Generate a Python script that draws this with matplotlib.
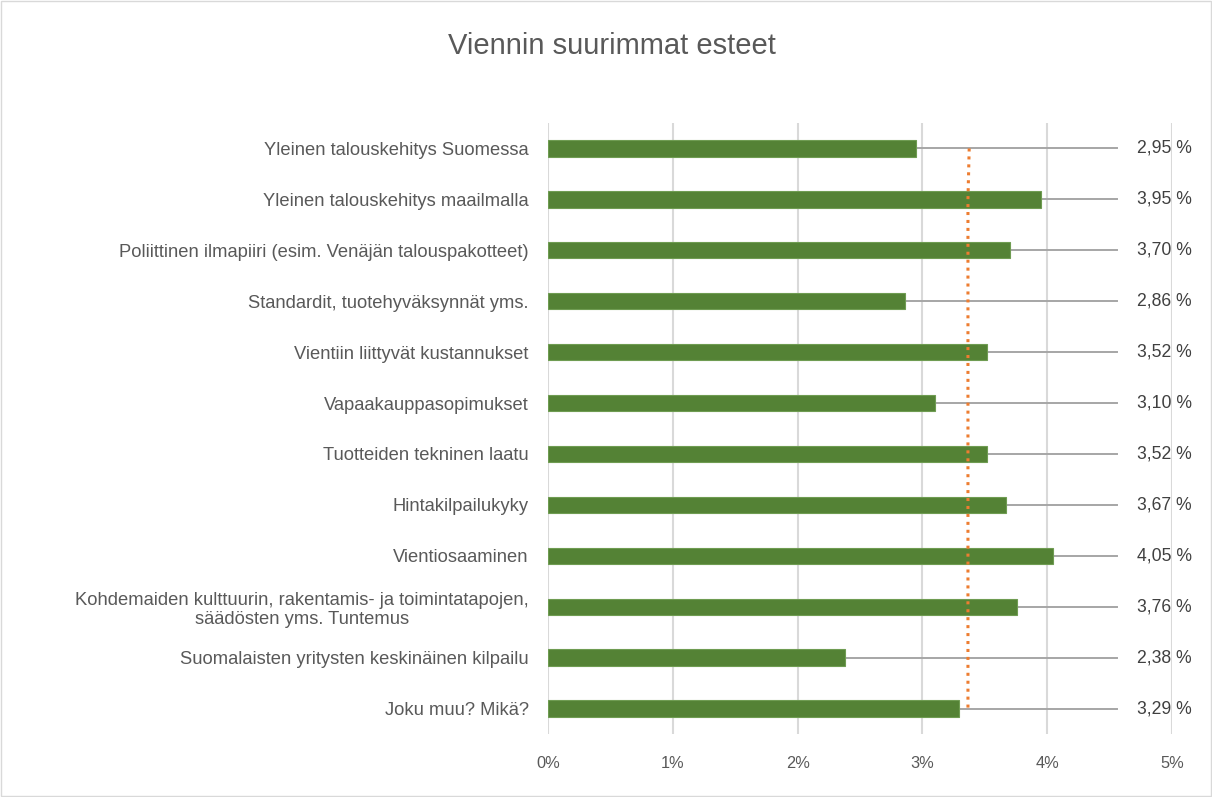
import matplotlib
matplotlib.use("Agg")
import matplotlib.pyplot as plt
from matplotlib.patches import Rectangle
from matplotlib import font_manager

categories = [
    "Yleinen talouskehitys Suomessa",
    "Yleinen talouskehitys maailmalla",
    "Poliittinen ilmapiiri (esim. Venäjän talouspakotteet)",
    "Standardit, tuotehyväksynnät yms.",
    "Vientiin liittyvät kustannukset",
    "Vapaakauppasopimukset",
    "Tuotteiden tekninen laatu",
    "Hintakilpailukyky",
    "Vientiosaaminen",
    "Kohdemaiden kulttuurin, rakentamis- ja toimintatapojen,\nsäädösten yms. Tuntemus",
    "Suomalaisten yritysten keskinäinen kilpailu",
    "Joku muu? Mikä?",
]
values = [2.95, 3.95, 3.70, 2.86, 3.52, 3.10, 3.52, 3.67, 4.05, 3.76, 2.38, 3.29]
avg_line = [3.375, 3.365, 3.365, 3.365, 3.365, 3.365, 3.365, 3.365, 3.365, 3.365, 3.365, 3.365]
xticks = [0, 1, 2, 3, 4, 5]
xticklabels = ["0%", "1%", "2%", "3%", "4%", "5%"]
title = "Viennin suurimmat esteet"

avail = {f.name for f in font_manager.fontManager.ttflist}
fam = [f for f in ["Liberation Sans Narrow", "Liberation Sans", "DejaVu Sans"] if f in avail]
plt.rcParams["font.family"] = fam

txt = "#595959"
fig = plt.figure(figsize=(12.12, 7.97), dpi=100)
ax = fig.add_axes([548 / 1212, (797 - 734) / 797, 624 / 1212, 611 / 797])

n = len(categories)
ypos = list(range(n))
ax.barh(ypos, values, height=0.32, color="#548235", edgecolor="#6f9c52", linewidth=0.8, zorder=3)
ax.plot(avg_line, ypos, linestyle=(0, (1, 1.6)), color="#ED7D31", linewidth=2.2, zorder=4)

lead_end = 4.56
lab_x = 4.94
for y, v in zip(ypos, values):
    ax.plot([v, lead_end], [y, y], color="#A6A6A6", linewidth=1.4, zorder=2, clip_on=False)
    ax.text(lab_x, y, f"{v:.2f} %".replace(".", ","), ha="center", va="center",
            fontsize=12.7, color="#404040", clip_on=False)

ax.set_xlim(0, 5)
ax.set_ylim(n - 0.5, -0.5)
ax.set_xticks(xticks)
ax.set_xticklabels(xticklabels, fontsize=11.8, color=txt)
ax.set_yticks(ypos)
ax.set_yticklabels(categories, fontsize=13.2, color=txt, multialignment="center")
ax.tick_params(axis="x", length=0, pad=16)
ax.tick_params(axis="y", length=0, pad=14)
ax.grid(axis="x", color="#D9D9D9", linewidth=1.5, zorder=0)
for s in ax.spines.values():
    s.set_visible(False)

fig.text(0.505, 1 - 46 / 797, title, ha="center", va="center", fontsize=21, color=txt)
fig.patches.append(Rectangle((0.001, 0.001), 0.998, 0.998, transform=fig.transFigure,
                             fill=False, edgecolor="#D9D9D9", linewidth=1))

fig.savefig("out.png", dpi=100)
